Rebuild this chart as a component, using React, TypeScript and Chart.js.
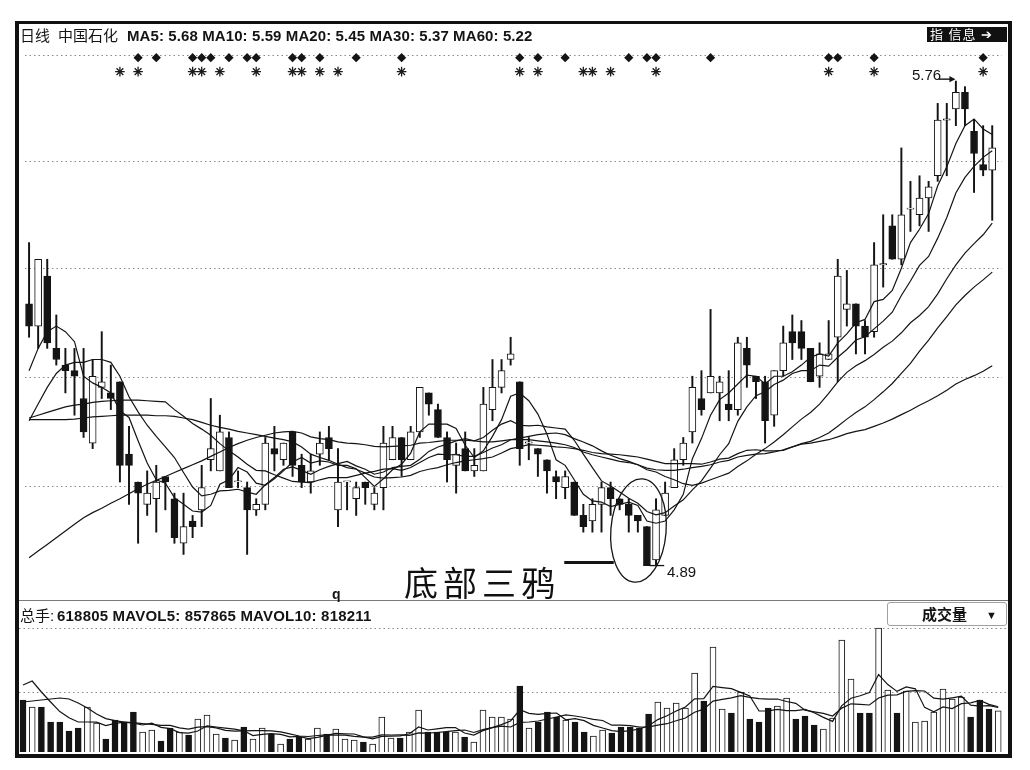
import React, { useEffect, useRef } from "react";
import { Chart, registerables } from "chart.js";

Chart.register(...registerables);

// ---------- daily candles (price, yuan) ----------
const OPEN = [
  5.36, 5.32, 5.41, 5.28, 5.25, 5.24, 5.19, 5.11, 5.21, 5.20,
  5.22, 5.09, 5.04, 5.00, 5.01, 5.05, 5.01, 4.93, 4.97, 4.99,
  5.08, 5.06, 5.12, 5.04, 5.03, 4.99, 5.00, 5.10, 5.08, 5.13,
  5.07, 5.04, 5.09, 5.12, 4.99, 5.04, 5.01, 5.04, 5.00, 5.03,
  5.08, 5.12, 5.08, 5.13, 5.20, 5.17, 5.12, 5.07, 5.10, 5.06,
  5.06, 5.17, 5.21, 5.26, 5.22, 5.11, 5.10, 5.08, 5.05, 5.03,
  5.04, 4.98, 4.97, 5.00, 5.03, 5.01, 5.00, 4.98, 4.96, 4.90,
  4.98, 5.03, 5.08, 5.13, 5.19, 5.20, 5.20, 5.18, 5.17, 5.28,
  5.23, 5.22, 5.16, 5.24, 5.31, 5.31, 5.28, 5.23, 5.26, 5.30,
  5.35, 5.36, 5.32, 5.31, 5.43, 5.50, 5.44, 5.53, 5.52, 5.55,
  5.59, 5.69, 5.71, 5.74, 5.67, 5.61, 5.60,
];
const HIGH = [
  5.47, 5.44, 5.44, 5.34, 5.28, 5.28, 5.28, 5.26, 5.31, 5.25,
  5.22, 5.14, 5.04, 5.06, 5.07, 5.05, 5.02, 5.02, 4.98, 5.07,
  5.19, 5.16, 5.13, 5.06, 5.04, 5.01, 5.12, 5.14, 5.11, 5.13,
  5.09, 5.09, 5.13, 5.14, 5.10, 5.04, 5.04, 5.04, 5.03, 5.14,
  5.14, 5.12, 5.14, 5.21, 5.20, 5.18, 5.13, 5.11, 5.13, 5.10,
  5.21, 5.26, 5.26, 5.30, 5.22, 5.12, 5.10, 5.08, 5.06, 5.06,
  5.04, 5.00, 5.01, 5.04, 5.04, 5.01, 5.01, 4.98, 4.96, 5.01,
  5.04, 5.10, 5.12, 5.23, 5.24, 5.35, 5.23, 5.24, 5.30, 5.30,
  5.23, 5.23, 5.24, 5.32, 5.34, 5.33, 5.28, 5.29, 5.33, 5.44,
  5.42, 5.36, 5.33, 5.47, 5.52, 5.52, 5.64, 5.58, 5.59, 5.58,
  5.72, 5.72, 5.76, 5.75, 5.69, 5.68, 5.68,
];
const LOW = [
  5.30, 5.28, 5.28, 5.25, 5.20, 5.16, 5.12, 5.10, 5.19, 5.17,
  5.04, 5.00, 4.93, 4.98, 4.95, 4.99, 4.93, 4.91, 4.94, 4.96,
  5.06, 5.06, 5.03, 5.03, 4.91, 4.98, 4.99, 5.06, 5.07, 5.05,
  5.03, 5.02, 5.07, 5.08, 4.96, 4.99, 4.98, 5.00, 4.99, 4.99,
  5.08, 5.05, 5.08, 5.12, 5.16, 5.12, 5.04, 5.02, 5.06, 5.05,
  5.06, 5.15, 5.20, 5.25, 5.07, 5.08, 5.05, 5.02, 5.01, 5.01,
  4.98, 4.95, 4.95, 4.95, 4.98, 4.99, 4.95, 4.95, 4.89, 4.89,
  4.98, 5.03, 5.07, 5.11, 5.16, 5.20, 5.15, 5.15, 5.16, 5.21,
  5.19, 5.11, 5.14, 5.23, 5.26, 5.26, 5.22, 5.21, 5.26, 5.22,
  5.32, 5.27, 5.27, 5.30, 5.39, 5.44, 5.43, 5.49, 5.50, 5.49,
  5.58, 5.59, 5.68, 5.68, 5.56, 5.59, 5.51,
];
const CLOSE = [
  5.32, 5.44, 5.29, 5.26, 5.24, 5.23, 5.13, 5.23, 5.22, 5.19,
  5.07, 5.07, 5.02, 5.02, 5.04, 5.04, 4.94, 4.96, 4.96, 5.03,
  5.10, 5.13, 5.03, 5.04, 4.99, 5.00, 5.11, 5.09, 5.11, 5.07,
  5.04, 5.06, 5.11, 5.10, 5.04, 5.04, 5.03, 5.03, 5.02, 5.11,
  5.12, 5.08, 5.13, 5.21, 5.18, 5.12, 5.08, 5.09, 5.06, 5.07,
  5.18, 5.21, 5.24, 5.27, 5.10, 5.11, 5.09, 5.06, 5.04, 5.05,
  4.98, 4.96, 5.00, 5.03, 5.01, 5.00, 4.98, 4.97, 4.89, 4.99,
  5.02, 5.08, 5.11, 5.21, 5.17, 5.23, 5.22, 5.17, 5.29, 5.25,
  5.22, 5.15, 5.24, 5.29, 5.29, 5.28, 5.22, 5.27, 5.27, 5.41,
  5.36, 5.32, 5.30, 5.43, 5.43, 5.44, 5.52, 5.53, 5.55, 5.57,
  5.69, 5.69, 5.74, 5.71, 5.63, 5.60, 5.64,
];

// ---------- moving averages ----------
const MA5 = [
  5.24, 5.28, 5.31, 5.32, 5.31, 5.292, 5.23, 5.218, 5.21, 5.2,
  5.168, 5.156, 5.114, 5.074, 5.044, 5.038, 5.012, 5.0, 4.988, 4.986,
  4.998, 5.036, 5.044, 5.066, 5.058, 5.038, 5.034, 5.046, 5.06, 5.076,
  5.084, 5.074, 5.078, 5.076, 5.07, 5.07, 5.064, 5.048, 5.032, 5.046,
  5.062, 5.072, 5.092, 5.13, 5.144, 5.144, 5.144, 5.136, 5.106, 5.084,
  5.096, 5.122, 5.152, 5.194, 5.2, 5.186, 5.162, 5.126, 5.08, 5.07,
  5.044, 5.018, 5.006, 5.004, 4.996, 5.0, 5.004, 4.998, 4.97, 4.966,
  4.97, 4.99, 5.018, 5.082, 5.118, 5.16, 5.188, 5.2, 5.216, 5.232,
  5.23, 5.216, 5.23, 5.23, 5.238, 5.25, 5.264, 5.27, 5.266, 5.29,
  5.306, 5.326, 5.332, 5.364, 5.368, 5.384, 5.424, 5.47, 5.494, 5.522,
  5.572, 5.606, 5.648, 5.68, 5.692, 5.674, 5.664,
];
const MA10 = [
  5.15, 5.18, 5.21, 5.235, 5.25, 5.255, 5.255, 5.26, 5.26, 5.255,
  5.23, 5.193, 5.166, 5.142, 5.122, 5.103, 5.084, 5.057, 5.031, 5.015,
  5.018, 5.024, 5.025, 5.027, 5.022, 5.018, 5.035, 5.048, 5.063, 5.067,
  5.061, 5.054, 5.062, 5.068, 5.073, 5.077, 5.069, 5.063, 5.054, 5.058,
  5.066, 5.068, 5.07, 5.081, 5.095, 5.103, 5.108, 5.114, 5.118, 5.114,
  5.12, 5.133, 5.144, 5.15, 5.142, 5.141, 5.142, 5.139, 5.137, 5.135,
  5.115, 5.09, 5.066, 5.042, 5.033, 5.022, 5.011, 5.002, 4.987, 4.981,
  4.985, 4.997, 5.008, 5.026, 5.042, 5.065, 5.089, 5.109, 5.149, 5.175,
  5.195, 5.202, 5.215, 5.223, 5.235, 5.24, 5.24, 5.25, 5.248, 5.264,
  5.278, 5.295, 5.301, 5.315, 5.329, 5.345, 5.375, 5.401, 5.429, 5.445,
  5.478, 5.515, 5.559, 5.587, 5.607, 5.623, 5.635,
];
const MA20 = [
  5.155, 5.16, 5.165, 5.17, 5.175, 5.178, 5.18, 5.183, 5.185, 5.186,
  5.187, 5.187, 5.187, 5.186, 5.185, 5.184, 5.17, 5.158, 5.145, 5.135,
  5.124, 5.109, 5.096, 5.085, 5.072, 5.061, 5.06, 5.053, 5.047, 5.041,
  5.04, 5.039, 5.044, 5.048, 5.048, 5.048, 5.052, 5.056, 5.059, 5.063,
  5.064, 5.061, 5.066, 5.075, 5.084, 5.09, 5.089, 5.089, 5.086, 5.086,
  5.093, 5.101, 5.107, 5.116, 5.119, 5.122, 5.125, 5.127, 5.128, 5.125,
  5.118, 5.112, 5.105, 5.096, 5.088, 5.082, 5.077, 5.071, 5.062, 5.058,
  5.05, 5.044, 5.037, 5.034, 5.038, 5.044, 5.05, 5.056, 5.068, 5.078,
  5.09, 5.1, 5.112, 5.125, 5.139, 5.153, 5.165, 5.18, 5.199, 5.22,
  5.237, 5.249, 5.258, 5.269, 5.282, 5.293, 5.308, 5.326, 5.339, 5.355,
  5.378, 5.405, 5.43, 5.451, 5.468, 5.484, 5.505,
];
const MA30 = [
  5.152, 5.152, 5.152, 5.152, 5.152, 5.153, 5.155, 5.157, 5.158, 5.159,
  5.16, 5.16, 5.16, 5.16, 5.159, 5.159, 5.158, 5.155, 5.152, 5.147,
  5.142, 5.138, 5.135, 5.131, 5.128, 5.125, 5.122, 5.119, 5.116, 5.112,
  5.103, 5.09, 5.084, 5.079, 5.072, 5.066, 5.063, 5.056, 5.049, 5.047,
  5.048, 5.049, 5.052, 5.059, 5.063, 5.066, 5.071, 5.075, 5.078, 5.08,
  5.082, 5.085, 5.092, 5.1, 5.103, 5.107, 5.106, 5.105, 5.103, 5.102,
  5.1, 5.097, 5.093, 5.091, 5.09, 5.089, 5.087, 5.085, 5.081, 5.077,
  5.073, 5.073, 5.073, 5.073, 5.072, 5.076, 5.081, 5.083, 5.091, 5.097,
  5.098, 5.096, 5.096, 5.097, 5.103, 5.109, 5.113, 5.12, 5.128, 5.14,
  5.153, 5.165, 5.175, 5.188, 5.202, 5.217, 5.235, 5.253, 5.275, 5.295,
  5.317, 5.337, 5.358, 5.375, 5.39, 5.403, 5.417,
];
const MA60 = [
  4.904, 4.916, 4.928, 4.94, 4.952, 4.964, 4.976, 4.985, 4.993, 5.002,
  5.01, 5.019, 5.028, 5.036, 5.043, 5.05, 5.057, 5.064, 5.071, 5.078,
  5.086, 5.094, 5.102, 5.109, 5.115, 5.12, 5.124, 5.128, 5.13, 5.131,
  5.128, 5.121, 5.118, 5.116, 5.112, 5.11, 5.109, 5.107, 5.104, 5.103,
  5.104, 5.105, 5.106, 5.11, 5.111, 5.113, 5.115, 5.115, 5.115, 5.114,
  5.112, 5.112, 5.114, 5.116, 5.116, 5.116, 5.114, 5.112, 5.11, 5.107,
  5.102, 5.094, 5.089, 5.085, 5.081, 5.077, 5.075, 5.071, 5.065, 5.062,
  5.061, 5.061, 5.063, 5.066, 5.068, 5.071, 5.076, 5.079, 5.085, 5.088,
  5.09, 5.091, 5.094, 5.098, 5.103, 5.108, 5.11, 5.113, 5.116, 5.121,
  5.127, 5.131, 5.134, 5.14, 5.146, 5.153, 5.161, 5.169, 5.178, 5.186,
  5.195, 5.205, 5.216, 5.224, 5.231, 5.239, 5.249,
];

// ---------- volume (lots) ----------
const VOLUME = [
  780000, 675000, 675000, 450000, 450000, 315000, 360000, 675000, 435000, 195000,
  480000, 450000, 600000, 300000, 330000, 165000, 360000, 300000, 255000, 495000,
  555000, 270000, 210000, 180000, 375000, 195000, 360000, 270000, 120000, 195000,
  225000, 195000, 360000, 270000, 345000, 195000, 180000, 150000, 120000, 525000,
  210000, 210000, 300000, 630000, 300000, 300000, 300000, 300000, 225000, 150000,
  630000, 525000, 525000, 495000, 990000, 360000, 450000, 600000, 525000, 480000,
  450000, 300000, 240000, 330000, 285000, 375000, 375000, 360000, 570000, 750000,
  660000, 735000, 660000, 1185000, 765000, 1575000, 645000, 585000, 900000, 495000,
  450000, 660000, 690000, 810000, 495000, 540000, 405000, 345000, 510000, 1680000,
  1095000, 585000, 585000, 1860000, 930000, 585000, 915000, 450000, 465000, 600000,
  945000, 795000, 825000, 525000, 780000, 645000, 618805,
];
const MAVOL5 = [
  1005000, 1065000, 900000, 750000, 606000, 513000, 450000, 450000, 447000, 396000,
  429000, 447000, 432000, 405000, 432000, 369000, 351000, 291000, 282000, 315000,
  393000, 375000, 357000, 342000, 318000, 246000, 264000, 276000, 264000, 228000,
  234000, 201000, 219000, 249000, 279000, 273000, 270000, 228000, 198000, 234000,
  237000, 243000, 273000, 375000, 330000, 348000, 366000, 366000, 285000, 255000,
  321000, 366000, 411000, 465000, 633000, 579000, 564000, 579000, 585000, 483000,
  501000, 471000, 399000, 360000, 321000, 306000, 321000, 345000, 393000, 486000,
  543000, 615000, 675000, 798000, 801000, 984000, 966000, 951000, 894000, 840000,
  615000, 618000, 639000, 621000, 621000, 639000, 588000, 519000, 459000, 696000,
  807000, 843000, 891000, 1161000, 1011000, 909000, 975000, 948000, 669000, 603000,
  675000, 651000, 726000, 738000, 774000, 714000, 679000,
];
const MAVOL10 = [
  750000, 765000, 780000, 795000, 810000, 795000, 735000, 660000, 570000, 501000,
  471000, 448500, 441000, 426000, 414000, 399000, 399000, 361500, 343500, 373500,
  381000, 363000, 324000, 312000, 316500, 319500, 319500, 316500, 303000, 273000,
  240000, 232500, 247500, 256500, 253500, 253500, 235500, 223500, 223500, 256500,
  255000, 256500, 250500, 286500, 282000, 292500, 304500, 319500, 330000, 292500,
  334500, 366000, 388500, 375000, 444000, 450000, 465000, 495000, 525000, 558000,
  540000, 517500, 489000, 472500, 402000, 403500, 396000, 372000, 376500, 403500,
  424500, 468000, 510000, 595500, 643500, 763500, 790500, 813000, 846000, 820500,
  799500, 792000, 795000, 757500, 730500, 627000, 603000, 579000, 540000, 658500,
  723000, 715500, 705000, 810000, 853500, 858000, 909000, 919500, 915000, 807000,
  792000, 813000, 837000, 703500, 688500, 694500, 667500,
];

// ---------- signal markers (day indices) ----------
const DIAMOND_DAYS = [12, 14, 18, 19, 20, 22, 24, 25, 29, 30, 32, 36, 41, 54, 56, 59, 66, 68, 69, 75, 88, 89, 93, 105];
const STAR_DAYS = [10, 12, 18, 19, 21, 25, 29, 30, 32, 34, 41, 54, 56, 61, 62, 64, 69, 88, 93, 105];
const DIAMOND_ROW = 5.802;
const STAR_ROW = 5.777;

// ---------- scale settings ----------
const PRICE_GRID = [5.032, 5.227, 5.423, 5.616, 5.806];
const VOLUME_GRID = [900000, 1860000];
const X_MIN = -0.435;
const X_MAX = 107.065;
const PRICE_MIN = 4.8391;
const PRICE_MAX = 5.8408;
const VOL_MAX = 1890000;

// ---------- annotation geometry (in day / price units) ----------
const RING = { day: 67.07, price: 4.953, halfDays: 3.04, halfPrice: 0.093, tilt: 0.08 };
const POINTER = { fromDay: 58.9, toDay: 64.35, price: 4.8955 };
const LOW_LEADER = { fromDay: 68.3, toDay: 69.9, price: 4.89 };
const HIGH_ARROW = { fromDay: 100.1, toDay: 101.95, price: 5.7635 };

const INK = "#141414";
const DAYS = CLOSE.map((_, i) => i);
const IS_UP = CLOSE.map((c, i) => c >= OPEN[i]);

function maLine(label: string, data: number[]) {
  return {
    type: "line" as const,
    label,
    data,
    borderColor: INK,
    borderWidth: 1.2,
    pointRadius: 0,
    tension: 0,
    order: 0,
  };
}

const annotationPlugin = {
  id: "annotations",
  afterDatasetsDraw(chart: any) {
    const { ctx } = chart;
    const x = chart.scales.x;
    const y = chart.scales.y;
    ctx.save();
    ctx.strokeStyle = INK;
    ctx.fillStyle = INK;

    const cx = x.getPixelForValue(RING.day);
    const cy = y.getPixelForValue(RING.price);
    const rx = Math.abs(x.getPixelForValue(RING.day + RING.halfDays) - cx);
    const ry = Math.abs(y.getPixelForValue(RING.price + RING.halfPrice) - cy);
    ctx.lineWidth = 1.3;
    ctx.beginPath();
    ctx.ellipse(cx, cy, rx, ry, RING.tilt, 0, Math.PI * 2);
    ctx.stroke();

    const py = y.getPixelForValue(POINTER.price);
    ctx.lineWidth = 3;
    ctx.beginPath();
    ctx.moveTo(x.getPixelForValue(POINTER.fromDay), py);
    ctx.lineTo(x.getPixelForValue(POINTER.toDay), py);
    ctx.stroke();

    const ly = y.getPixelForValue(LOW_LEADER.price);
    ctx.lineWidth = 1.3;
    ctx.beginPath();
    ctx.moveTo(x.getPixelForValue(LOW_LEADER.fromDay), ly);
    ctx.lineTo(x.getPixelForValue(LOW_LEADER.toDay), ly);
    ctx.stroke();

    const hy = y.getPixelForValue(HIGH_ARROW.price);
    const hx1 = x.getPixelForValue(HIGH_ARROW.fromDay);
    const hx2 = x.getPixelForValue(HIGH_ARROW.toDay);
    ctx.lineWidth = 1.4;
    ctx.beginPath();
    ctx.moveTo(hx1, hy);
    ctx.lineTo(hx2 - 4, hy);
    ctx.stroke();
    ctx.beginPath();
    ctx.moveTo(hx2, hy);
    ctx.lineTo(hx2 - 6, hy - 3.2);
    ctx.lineTo(hx2 - 6, hy + 3.2);
    ctx.closePath();
    ctx.fill();
    ctx.restore();
  },
};

const baseX = {
  type: "linear" as const,
  min: X_MIN,
  max: X_MAX,
  display: false,
  offset: false,
};

export default function App() {
  const priceRef = useRef<HTMLCanvasElement | null>(null);
  const volRef = useRef<HTMLCanvasElement | null>(null);

  useEffect(() => {
    const price = new Chart(priceRef.current as HTMLCanvasElement, {
      type: "bar",
      data: {
        labels: DAYS,
        datasets: [
          maLine("MA5", MA5),
          maLine("MA10", MA10),
          maLine("MA20", MA20),
          maLine("MA30", MA30),
          maLine("MA60", MA60),
          {
            type: "line",
            label: "diamond",
            data: DIAMOND_DAYS.map((d) => ({ x: d, y: DIAMOND_ROW })),
            showLine: false,
            pointStyle: "rectRot",
            pointRadius: 4.6,
            backgroundColor: INK,
            borderColor: INK,
            borderWidth: 0,
            order: 0,
          } as any,
          {
            type: "line",
            label: "star",
            data: STAR_DAYS.map((d) => ({ x: d, y: STAR_ROW })),
            showLine: false,
            pointStyle: "star",
            pointRadius: 4.8,
            borderColor: "#1c1c1c",
            borderWidth: 1.3,
            order: 0,
          } as any,
          {
            type: "bar",
            label: "body",
            data: OPEN.map((o, i) => [o, CLOSE[i]]),
            backgroundColor: IS_UP.map((u) => (u ? "#ffffff" : INK)),
            borderColor: INK,
            borderWidth: 1,
            borderSkipped: false,
            barThickness: 7,
            minBarLength: 1.2,
            grouped: false,
            order: 1,
          } as any,
          {
            type: "bar",
            label: "wick",
            data: LOW.map((l, i) => [l, HIGH[i]]),
            backgroundColor: INK,
            borderWidth: 0,
            barThickness: 1.3,
            grouped: false,
            order: 2,
          } as any,
        ],
      },
      options: {
        responsive: false,
        animation: false,
        devicePixelRatio: 1,
        events: [],
        layout: { padding: 0 },
        plugins: { legend: { display: false }, tooltip: { enabled: false } },
        scales: {
          x: baseX,
          y: {
            type: "linear",
            min: PRICE_MIN,
            max: PRICE_MAX,
            afterBuildTicks: (scale: any) => {
              scale.ticks = PRICE_GRID.map((v) => ({ value: v }));
            },
            ticks: { display: false },
            grid: { color: "#8a8a8a", lineWidth: 1, drawTicks: false },
            border: { display: false, dash: [1.5, 3] },
          },
        },
      } as any,
      plugins: [annotationPlugin],
    });

    const vol = new Chart(volRef.current as HTMLCanvasElement, {
      type: "bar",
      data: {
        labels: DAYS,
        datasets: [
          maLine("MAVOL5", MAVOL5),
          maLine("MAVOL10", MAVOL10),
          {
            type: "bar",
            label: "volume",
            data: VOLUME,
            backgroundColor: IS_UP.map((u) => (u ? "#ffffff" : INK)),
            borderColor: INK,
            borderWidth: 1,
            borderSkipped: "start",
            barThickness: 6,
            grouped: false,
            order: 1,
          } as any,
        ],
      },
      options: {
        responsive: false,
        animation: false,
        devicePixelRatio: 1,
        events: [],
        layout: { padding: 0 },
        plugins: { legend: { display: false }, tooltip: { enabled: false } },
        scales: {
          x: baseX,
          y: {
            type: "linear",
            min: 0,
            max: VOL_MAX,
            afterBuildTicks: (scale: any) => {
              scale.ticks = VOLUME_GRID.map((v) => ({ value: v }));
            },
            ticks: { display: false },
            grid: { color: "#8a8a8a", lineWidth: 1, drawTicks: false },
            border: { display: false, dash: [1.5, 3] },
          },
        },
      } as any,
    });

    return () => {
      price.destroy();
      vol.destroy();
    };
  }, []);

  const font = '"Liberation Sans", Arial, "Noto Sans CJK SC", sans-serif';
  const text = (extra: React.CSSProperties): React.CSSProperties => ({
    position: "absolute",
    whiteSpace: "nowrap",
    fontSize: 15,
    lineHeight: "17px",
    color: INK,
    fontFamily: font,
    ...extra,
  });

  return (
    <div
      style={{
        position: "absolute",
        left: 0,
        top: 0,
        width: 1030,
        height: 770,
        background: "#ffffff",
        fontFamily: font,
        overflow: "hidden",
      }}
    >
      <canvas
        ref={priceRef}
        width={989}
        height={570}
        style={{ position: "absolute", left: 19, top: 30, width: 989, height: 570 }}
      />
      <canvas
        ref={volRef}
        width={989}
        height={126}
        style={{ position: "absolute", left: 19, top: 626, width: 989, height: 126 }}
      />

      {/* panel divider */}
      <div style={{ position: "absolute", left: 19, top: 600, width: 989, height: 1, background: "#7a7a7a" }} />

      {/* outer frame */}
      <div
        style={{
          position: "absolute",
          left: 15,
          top: 21,
          width: 997,
          height: 737,
          boxSizing: "border-box",
          borderStyle: "solid",
          borderColor: "#111",
          borderWidth: "3px 4px 4px 4px",
        }}
      />

      {/* price header */}
      <div style={text({ left: 20, top: 27 })}>日线</div>
      <div style={text({ left: 58, top: 27 })}>中国石化</div>
      <div style={text({ left: 127, top: 27, fontWeight: "bold", letterSpacing: 0.1 })}>
        MA5: 5.68 MA10: 5.59 MA20: 5.45 MA30: 5.37 MA60: 5.22
      </div>
      <div
        style={text({
          left: 927,
          top: 27,
          width: 80,
          height: 15,
          lineHeight: "15px",
          fontSize: 13,
          background: "#111",
          color: "#fff",
          paddingLeft: 3,
          boxSizing: "border-box",
          letterSpacing: 1,
        })}
      >
        指 信息 ➔
      </div>

      {/* annotations */}
      <div style={text({ left: 912, top: 66 })}>5.76</div>
      <div style={text({ left: 667, top: 563 })}>4.89</div>
      <div
        style={text({
          left: 404,
          top: 565,
          fontSize: 34,
          lineHeight: "34px",
          letterSpacing: 5,
          fontWeight: 400,
          color: "#111",
          fontFamily: '"Noto Sans CJK SC", sans-serif',
        })}
      >
        底部三鸦
      </div>
      <div style={text({ left: 332, top: 586, fontSize: 14, fontWeight: "bold" })}>q</div>

      {/* volume header */}
      <div style={text({ left: 20, top: 607 })}>总手:</div>
      <div style={text({ left: 57, top: 607, fontWeight: "bold", letterSpacing: 0.2 })}>
        618805 MAVOL5: 857865 MAVOL10: 818211
      </div>
      <div
        style={{
          position: "absolute",
          left: 887,
          top: 602,
          width: 120,
          height: 24,
          boxSizing: "border-box",
          border: "1px solid #a0a0a0",
          borderRadius: 3,
          background: "#fff",
        }}
      />
      <div style={text({ left: 922, top: 606, fontWeight: "bold" })}>成交量</div>
      <div style={text({ left: 986, top: 607, fontSize: 11 })}>▼</div>
    </div>
  );
}
